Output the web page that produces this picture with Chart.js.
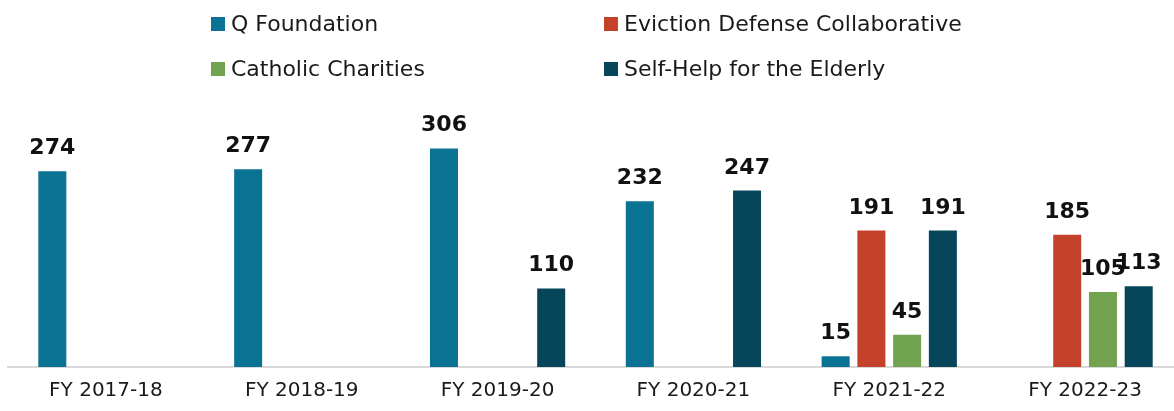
<!DOCTYPE html>
<html>
<head>
<meta charset="utf-8">
<script src="https://cdn.jsdelivr.net/npm/chart.js@4/dist/chart.umd.min.js"></script>
<style>
  html, body { margin: 0; padding: 0; background: #fff; overflow: hidden; }
  #wrap { position: relative; width: 1174px; height: 411px; overflow: hidden; }
  #box { position: absolute; left: 0; top: 0; width: 1184px; height: 415px; }
  .leg { position: absolute; font-family: "DejaVu Sans", sans-serif; font-size: 22px; color: #1a1a1a;
         line-height: 26px; white-space: nowrap; }
  .leg i { position: absolute; left: 0; top: 6px; width: 14px; height: 14px; }
  .leg span { position: absolute; left: 20px; top: 0; }
</style>
</head>
<body>
<div id="wrap">
  <div id="box"><canvas id="chart"></canvas></div>
  <div id="legend"></div>
</div>
<script>
const categories = ["FY 2017-18", "FY 2018-19", "FY 2019-20", "FY 2020-21", "FY 2021-22", "FY 2022-23"];
const seriesNames = ["Q Foundation", "Eviction Defense Collaborative", "Catholic Charities", "Self-Help for the Elderly"];
const qFoundation = [274, 277, 306, 232, 15, null];
const evictionDefense = [null, null, null, null, 191, 185];
const catholicCharities = [null, null, null, null, 45, 105];
const selfHelpElderly = [null, null, 110, 247, 191, 113];
const colors = ["#0a7394", "#c4412c", "#72a350", "#07465a"];

const values = [qFoundation, evictionDefense, catholicCharities, selfHelpElderly];

// legend, two columns like the original
const legendPos = [[211, 11], [604, 11], [211, 56], [604, 56]];
const legendEl = document.getElementById("legend");
seriesNames.forEach((name, i) => {
  const d = document.createElement("div");
  d.className = "leg";
  d.style.left = legendPos[i][0] + "px";
  d.style.top = legendPos[i][1] + "px";
  d.innerHTML = '<i style="background:' + colors[i] + '"></i><span>' + name + "</span>";
  legendEl.appendChild(d);
});

const valueLabels = {
  id: "valueLabels",
  afterDatasetsDraw(chart) {
    const ctx = chart.ctx;
    ctx.save();
    ctx.font = "bold 22px 'DejaVu Sans'";
    ctx.fillStyle = "#111";
    ctx.textAlign = "center";
    ctx.textBaseline = "alphabetic";
    chart.data.datasets.forEach((ds, i) => {
      const meta = chart.getDatasetMeta(i);
      meta.data.forEach((bar, j) => {
        const v = ds.data[j];
        if (v === null || v === undefined) return;
        ctx.fillText(String(v), bar.x, bar.y - 17);
      });
    });
    ctx.restore();
  }
};

new Chart(document.getElementById("chart"), {
  type: "bar",
  data: {
    labels: categories,
    datasets: seriesNames.map((name, i) => ({
      label: name,
      data: values[i],
      backgroundColor: colors[i],
      borderWidth: 0,
      categoryPercentage: 0.73,
      barPercentage: 0.784
    }))
  },
  options: {
    responsive: true,
    maintainAspectRatio: false,
    animation: false,
    layout: { padding: { top: 117, left: 8, right: 1, bottom: 0 } },
    plugins: { legend: { display: false }, tooltip: { enabled: false } },
    scales: {
      x: {
        grid: { display: false, drawTicks: false },
        border: { display: true, color: "#d9d9d9", width: 2 },
        ticks: { color: "#1a1a1a", padding: 12, font: { family: "DejaVu Sans", size: 20 } }
      },
      y: {
        display: false,
        min: 0,
        max: 350
      }
    }
  },
  plugins: [valueLabels]
});
</script>
</body>
</html>
